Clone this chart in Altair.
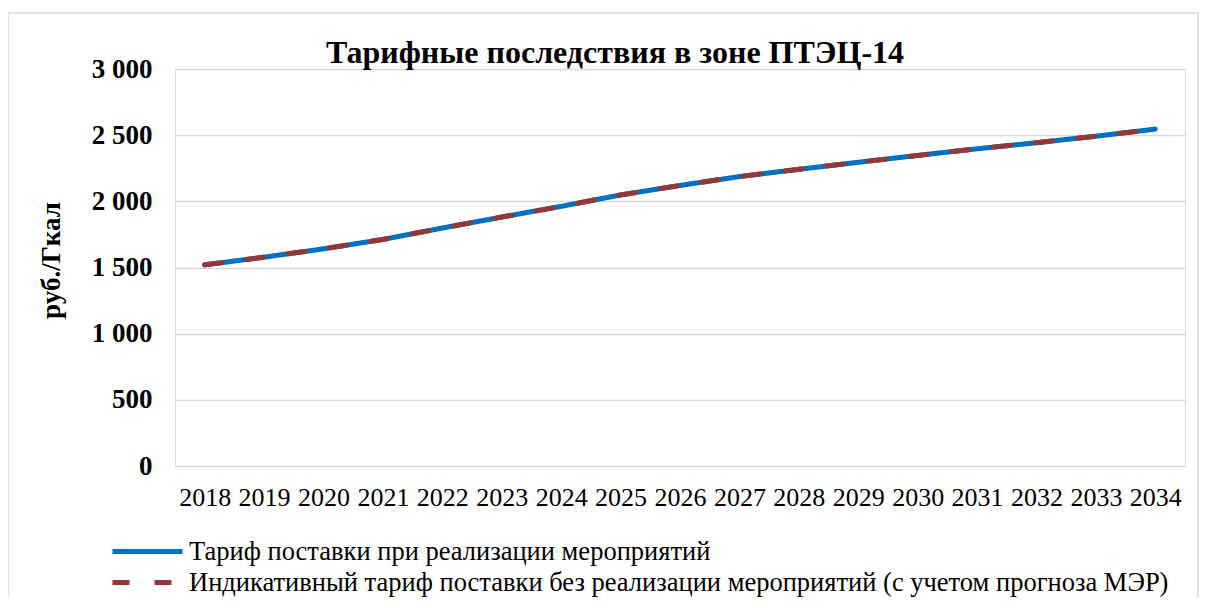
import altair as alt
import pandas as pd

years = ["2018", "2019", "2020", "2021", "2022", "2023", "2024", "2025", "2026",
         "2027", "2028", "2029", "2030", "2031", "2032", "2033", "2034"]
tariff = [1520, 1578, 1641, 1712, 1798, 1881, 1962, 2048, 2120,
          2187, 2242, 2295, 2347, 2397, 2443, 2492, 2546]
indicative = [1520, 1578, 1641, 1712, 1798, 1881, 1962, 2048, 2120,
              2187, 2242, 2295, 2347, 2397, 2443, 2492, 2546]
y_ticks = [0, 500, 1000, 1500, 2000, 2500, 3000]

S1 = "Тариф поставки при реализации мероприятий"
S2 = "Индикативный тариф поставки без реализации мероприятий (с учетом прогноза МЭР)"
series_names = [S1, S2]
series_colors = ["#0070C0", "#953735"]
series_dashes = [[1, 0], [17, 25]]

rows = []
for name, vals in ((S1, tariff), (S2, indicative)):
    for y, v in zip(years, vals):
        rows.append({"series": name, "year": y, "value": v})
df = pd.DataFrame(rows)

FONT = "Liberation Serif"

legend = alt.Legend(
    title=None, orient="none", legendX=-44, legendY=466, padding=0,
    symbolType="M-2.5,0H2.5", symbolSize=784, symbolStrokeWidth=5,
    labelFont=FONT, labelFontSize=26.5, labelColor="#000000", labelLimit=1200,
    labelOffset=25, rowPadding=1, symbolOpacity=1,
)

color = alt.Color("series:N", scale=alt.Scale(domain=series_names, range=series_colors), legend=legend)
dash = alt.StrokeDash("series:N", scale=alt.Scale(domain=series_names, range=series_dashes), legend=legend)

x = alt.X("year:O", sort=years, axis=alt.Axis(
    title=None, labelAngle=0, labelFont=FONT, labelFontSize=26, labelColor="#000000",
    ticks=False, domain=False, grid=False, labelPadding=18))
y = alt.Y("value:Q", scale=alt.Scale(domain=[0, 3000]), axis=alt.Axis(
    values=y_ticks, title="руб./Гкал", titleFont=FONT, titleFontSize=27,
    titleFontWeight="bold", titleColor="#000000", titleAngle=-90,
    titleX=-116, titleY=191, titleAlign="center", titleBaseline="alphabetic",
    labelFont=FONT, labelFontSize=27, labelFontWeight="bold", labelColor="#000000",
    labelExpr="replace(format(datum.value, ','), ',', ' ')",
    ticks=False, domain=False, grid=True, gridColor="#d9d9d9", gridWidth=1.5,
    labelPadding=23))

line1 = alt.Chart(df).transform_filter(alt.datum.series == S1).mark_line(
    strokeWidth=5, strokeCap="round", strokeJoin="round").encode(
    x=x, y=y, color=color, strokeDash=dash)
line2 = alt.Chart(df).transform_filter(alt.datum.series == S2).mark_line(
    strokeWidth=5, strokeCap="round", strokeJoin="round").encode(
    x=x, y=y, color=color, strokeDash=dash)

frame = alt.Chart(alt.Data(values=[{"k": 1}])).mark_rect(
    fill="transparent", stroke="#d9d9d9", strokeWidth=1.5).encode(
    x=alt.value(-167), x2=alt.value(1023), y=alt.value(-56), y2=alt.value(560))

chart = alt.layer(frame, line1, line2).properties(
    width=1010, height=397,
    title=alt.TitleParams("Тарифные последствия в зоне ПТЭЦ-14", font=FONT, fontSize=32,
                          fontWeight="bold", color="#000000", anchor="middle", dx=-65,
                          dy=64, offset=6),
    autosize=alt.AutoSizeParams(type="none"),
    padding={"left": 167, "top": 61, "right": 15, "bottom": 132},
).configure_view(stroke=None).configure(background="white")

chart.save("out.html", embed_options={"renderer": "svg", "actions": False})
